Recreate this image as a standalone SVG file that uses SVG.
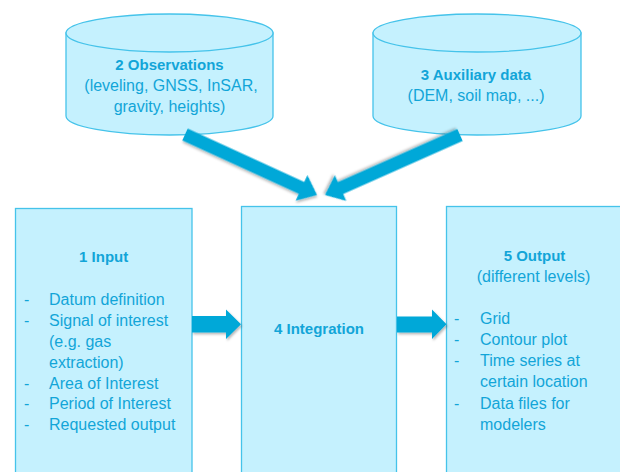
<svg xmlns="http://www.w3.org/2000/svg" width="620" height="472" viewBox="0 0 620 472">
<defs>
<style>
.node{fill:#C5F1FE;stroke:#45C3EA;stroke-width:1.3}
.t{font-family:"Liberation Sans",Arial,sans-serif;font-size:16px;fill:#12A5D8}
.b{font-family:"Liberation Sans",Arial,sans-serif;font-size:15px;font-weight:bold;fill:#12A5D8}
.c{text-anchor:middle}
.arrow{fill:#00A8D8;filter:url(#sh)}
</style>
<filter id="sh" x="-20%" y="-20%" width="140%" height="160%">
<feDropShadow dx="1.2" dy="1.8" stdDeviation="1.2" flood-color="#000" flood-opacity="0.28"/>
</filter>
</defs>
<rect width="620" height="472" fill="#fff"/>

<g id="node-observations">
<path class="node" d="M66,33 L66,116 A103.5,19 0 0 0 273,116 L273,33 Z"/>
<ellipse class="node" cx="169.5" cy="33" rx="103.5" ry="19"/>
<text class="b c" x="169.5" y="69.5">2 Observations</text>
<text class="t c" x="171" y="90.5">(leveling, GNSS, InSAR,</text>
<text class="t c" x="169.5" y="111.5">gravity, heights)</text>
</g>

<g id="node-auxiliary">
<path class="node" d="M373,33 L373,116 A104,19 0 0 0 581,116 L581,33 Z"/>
<ellipse class="node" cx="477" cy="33" rx="104" ry="19"/>
<text class="b c" x="476" y="79.5">3 Auxiliary data</text>
<text class="t c" x="476" y="100.5">(DEM, soil map, ...)</text>
</g>

<g id="node-input">
<rect class="node" x="15.5" y="208.5" width="176.5" height="280"/>
<text class="b c" x="103.7" y="262">1 Input</text>
<g class="t">
<text x="24" y="305">-</text><text x="49" y="305">Datum definition</text>
<text x="24" y="326">-</text><text x="49" y="326">Signal of interest</text>
<text x="49" y="347">(e.g. gas</text>
<text x="49" y="367.8">extraction)</text>
<text x="24" y="388.6">-</text><text x="49" y="388.6">Area of Interest</text>
<text x="24" y="409.4">-</text><text x="49" y="409.4">Period of Interest</text>
<text x="24" y="430.3">-</text><text x="49" y="430.3">Requested output</text>
</g>
</g>

<g id="node-integration">
<rect class="node" x="241.5" y="206.5" width="155" height="280"/>
<text class="b c" x="319" y="334">4 Integration</text>
</g>

<g id="node-output">
<rect class="node" x="446.5" y="206.5" width="176" height="280"/>
<text class="b c" x="534.5" y="261">5 Output</text>
<text class="t c" x="533.5" y="281.5">(different levels)</text>
<g class="t">
<text x="454" y="324">-</text><text x="480" y="324">Grid</text>
<text x="454" y="345">-</text><text x="480" y="345">Contour plot</text>
<text x="454" y="366">-</text><text x="480" y="366">Time series at</text>
<text x="480" y="387">certain location</text>
<text x="454" y="408.5">-</text><text x="480" y="408.5">Data files for</text>
<text x="480" y="429.5">modelers</text>
</g>
</g>

<g id="connectors">
<polygon class="arrow" transform="translate(185,134.5) rotate(24.62)" points="0,-6.5 128.2,-6.5 128.2,-14 145.2,0 128.2,14 128.2,6.5 0,6.5"/>
<polygon class="arrow" transform="translate(460,135) rotate(156.04)" points="0,-6.5 130.7,-6.5 130.7,-14 147.7,0 130.7,14 130.7,6.5 0,6.5"/>
<polygon class="arrow" points="192,316 226,316 226,309.5 241,324.3 226,339 226,332.5 192,332.5"/>
<polygon class="arrow" points="397,316.5 432,316.5 432,309.5 446.5,324.3 432,339 432,332.5 397,332.5"/>
</g>
</svg>
